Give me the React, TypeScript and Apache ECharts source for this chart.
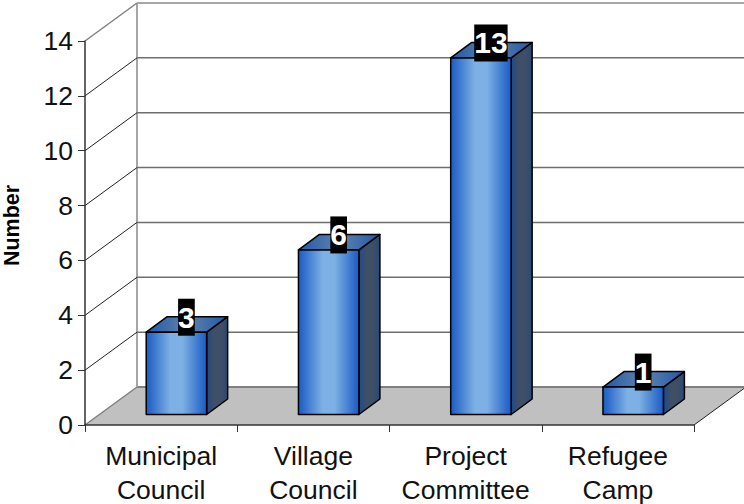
import React, { useEffect, useRef } from "react";
import * as echarts from "echarts";

const categories = ["Municipal\nCouncil", "Village\nCouncil", "Project\nCommittee", "Refugee\nCamp"];
const values = [3, 6, 13, 1];
const gridTicks = [2, 4, 6, 8, 10, 12, 14];
const yTitle = "Number";

const DX = 52;
const DY = -38;
const BAR_DX = 21;
const BAR_DY = -15.5;
const BAR_SHIFT_X = 15.3;
const BAR_SHIFT_Y = -10.5;
const BAR_RATIO = 0.397;
const FONT = '"Liberation Sans", Arial, sans-serif';

const hGrad = (stops: [number, string][]) => ({
  type: "linear", x: 0, y: 0, x2: 1, y2: 0,
  colorStops: stops.map(([offset, color]) => ({ offset, color })),
});

export default function App() {
  const ref = useRef<HTMLDivElement>(null);
  useEffect(() => {
    const chart = echarts.init(ref.current!, undefined, { renderer: "svg" });
    chart.setOption({
      animation: false,
      backgroundColor: "#ffffff",
      grid: { left: 85, right: 50, top: 41, bottom: 79, outerBoundsMode: "none", containLabel: false },
      graphic: [
        {
          type: "text",
          x: 11.5,
          y: 225.5,
          rotation: Math.PI / 2,
          style: {
            text: yTitle,
            fill: "#000000",
            font: `bold 21.5px ${FONT}`,
            align: "center",
            verticalAlign: "middle",
          },
        },
      ],
      xAxis: {
        type: "category",
        data: categories,
        boundaryGap: true,
        z: 5,
        axisLine: { lineStyle: { color: "#333333", width: 1.5 } },
        axisTick: { show: true, alignWithLabel: false, length: 7, lineStyle: { color: "#333333", width: 1 } },
        axisLabel: { color: "#111111", fontFamily: FONT, fontSize: 26.5, lineHeight: 34, margin: 14, interval: 0 },
        splitLine: { show: false },
      },
      yAxis: {
        type: "value",
        min: 0,
        max: 14,
        interval: 2,
        z: 5,
        axisLine: { show: true, lineStyle: { color: "#333333", width: 1.5 } },
        axisTick: { show: true, length: 7, lineStyle: { color: "#333333", width: 1 } },
        axisLabel: { color: "#111111", fontFamily: FONT, fontSize: 26.5, margin: 12 },
        splitLine: { show: false },
      },
      series: [
        {
          type: "custom",
          z: 1,
          silent: true,
          data: [[0, 0]],
          renderItem: (params: any, api: any) => {
            const cs = params.coordSys;
            const p0 = api.coord([0, 0]);
            const y0 = p0[1];
            const top = cs.y;
            const x0 = cs.x;
            const x1 = cs.x + cs.width;
            return {
              type: "group",
              children: [
                {
                  type: "polygon",
                  shape: { points: [[x0, y0], [x1, y0], [x1 + DX, y0 + DY], [x0 + DX, y0 + DY]] },
                  style: { fill: "#c0c0c0" },
                },
                { type: "line", shape: { x1: x0 + DX, y1: y0 + DY, x2: x1 + DX, y2: y0 + DY }, style: { stroke: "#808080", lineWidth: 2 } },
                { type: "line", shape: { x1: x0, y1: y0, x2: x0 + DX, y2: y0 + DY }, style: { stroke: "#808080", lineWidth: 1.5 } },
                { type: "line", shape: { x1: x1, y1: y0, x2: x1 + DX, y2: y0 + DY }, style: { stroke: "#222222", lineWidth: 1 } },
                { type: "line", shape: { x1: x0 + DX, y1: y0 + DY, x2: x0 + DX, y2: top + DY }, style: { stroke: "#a6a6a6", lineWidth: 2 } },
              ],
            };
          },
        },
        {
          type: "custom",
          z: 2,
          silent: true,
          data: gridTicks.map((t) => [0, t]),
          renderItem: (params: any, api: any) => {
            const cs = params.coordSys;
            const y = api.coord([0, api.value(1)])[1];
            const isTop = api.value(1) === gridTicks[gridTicks.length - 1];
            const x0 = cs.x;
            const x1 = cs.x + cs.width;
            return {
              type: "group",
              children: [
                { type: "line", shape: { x1: x0, y1: y, x2: x0 + DX, y2: y + DY }, style: { stroke: isTop ? "#808080" : "#222222", lineWidth: isTop ? 1.5 : 1 } },
                { type: "line", shape: { x1: x0 + DX, y1: y + DY, x2: x1 + DX, y2: y + DY }, style: { stroke: isTop ? "#a6a6a6" : "#6e6e6e", lineWidth: isTop ? 2 : 1.5 } },
              ],
            };
          },
        },
        {
          type: "custom",
          z: 6,
          silent: true,
          data: values.map((v, i) => [i, v]),
          renderItem: (params: any, api: any) => {
            const i = api.value(0);
            const v = api.value(1);
            const w = api.size([1, 0])[0] * BAR_RATIO;
            const base = api.coord([i, 0]);
            const top = api.coord([i, v]);
            const xl = base[0] + BAR_SHIFT_X - w / 2;
            const xr = xl + w;
            const yb = base[1] + BAR_SHIFT_Y;
            const yt = top[1] + BAR_SHIFT_Y;
            const edge = { stroke: "#000000", lineWidth: 1.5, lineJoin: "round" };
            return {
              type: "group",
              children: [
                {
                  type: "polygon",
                  shape: { points: [[xr, yt], [xr + BAR_DX, yt + BAR_DY], [xr + BAR_DX, yb + BAR_DY], [xr, yb]] },
                  style: { ...edge, fill: hGrad([[0, "#1f4a8c"], [0.35, "#3e4f66"], [0.65, "#3e4f66"], [1, "#2a4a78"]]) },
                },
                {
                  type: "polygon",
                  shape: { points: [[xl, yt], [xl + BAR_DX, yt + BAR_DY], [xr + BAR_DX, yt + BAR_DY], [xr, yt]] },
                  style: { ...edge, fill: hGrad([[0, "#2258ab"], [0.5, "#5f83aa"], [1, "#2258ab"]]) },
                },
                {
                  type: "rect",
                  shape: { x: xl, y: yt, width: w, height: yb - yt },
                  style: { ...edge, fill: hGrad([[0, "#1a5ac4"], [0.4, "#7db0e4"], [0.6, "#7db0e4"], [1, "#1a5ac4"]]) },
                },
                {
                  type: "text",
                  z2: 10,
                  x: (xl + xr) / 2 + 10,
                  y: yt - 15,
                  style: {
                    text: String(v),
                    fill: "#ffffff",
                    font: `bold 30px ${FONT}`,
                    align: "center",
                    verticalAlign: "middle",
                    backgroundColor: "#000000",
                    padding: [4, 0, 3, 0],
                  },
                },
              ],
            };
          },
        },
      ],
    });
    return () => chart.dispose();
  }, []);
  return <div ref={ref} style={{ position: "absolute", left: 0, top: 0, width: 744, height: 504 }} />;
}
